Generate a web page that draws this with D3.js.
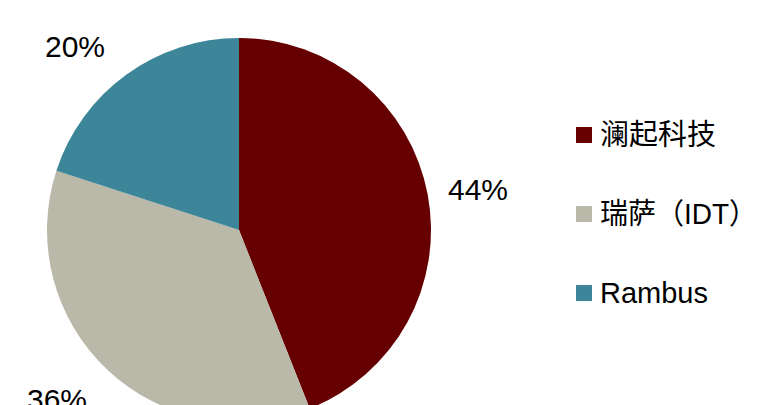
<!DOCTYPE html>
<html><head><meta charset="utf-8">
<script src="https://cdn.jsdelivr.net/npm/d3@7"></script>
<style>body{margin:0;background:#fff}svg{display:block}</style>
</head><body>
<svg id="c" width="772" height="405"></svg>
<script>
const categories = ["澜起科技", "瑞萨（IDT）", "Rambus"];
const values = [44, 36, 20];
const labels = ["44%", "36%", "20%"];
const colors = ["#660000", "#BAB8A8", "#3D8699"];

const svg = d3.select("#c");
const cx = 239, cy = 230, r = 192;
const pie = d3.pie().sort(null).value(d => d)(values);
const arc = d3.arc().innerRadius(0).outerRadius(r);
const g = svg.append("g").attr("transform", `translate(${cx},${cy})`);
g.selectAll("path").data(pie).join("path")
  .attr("d", arc).attr("fill", (d, i) => colors[i]);

// outside labels
const labelPos = [[478, 200], [57, 410], [75, 57]];
svg.selectAll("text.lab").data(labels).join("text")
  .attr("class", "lab")
  .attr("x", (d, i) => labelPos[i][0]).attr("y", (d, i) => labelPos[i][1])
  .attr("text-anchor", "middle")
  .attr("font-family", "'Liberation Sans', Arial, sans-serif")
  .attr("font-size", 30).attr("fill", "#000")
  .text(d => d);

// legend
const legend = svg.append("g");
const ly = d3.scalePoint().domain(categories).range([135, 293]);
const items = legend.selectAll("g").data(categories).join("g")
  .attr("transform", d => `translate(576,${ly(d)})`);
items.append("rect").attr("x", 0).attr("y", -8).attr("width", 16).attr("height", 16)
  .attr("fill", (d, i) => colors[i]);
items.append("text").attr("x", 24).attr("y", 0).attr("dy", "0.36em")
  .attr("font-family", "'Liberation Sans', Arial, 'Noto Sans CJK SC', sans-serif")
  .attr("font-size", 29).attr("fill", "#000")
  .text(d => d)
  .each(function() {
    const maxW = 757 - 600;
    if (this.getComputedTextLength() > maxW) {
      d3.select(this).attr("textLength", maxW).attr("lengthAdjust", "spacingAndGlyphs");
    }
  });
</script>
</body></html>
